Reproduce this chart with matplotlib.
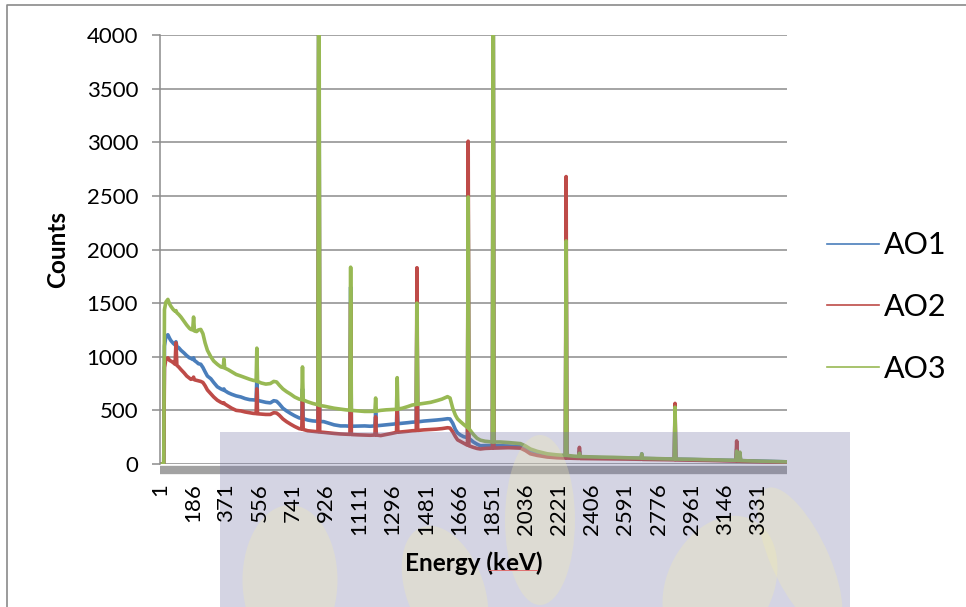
import matplotlib
matplotlib.use('Agg')
import matplotlib.pyplot as plt
from matplotlib.patches import Rectangle, Ellipse
from matplotlib.lines import Line2D

plt.rcParams['font.family'] = ['Lato', 'DejaVu Sans']

# Detector channels (keV) and counts for each sample
channel = [1, 22, 26, 34, 45, 55, 62, 75, 85, 90, 95, 105, 118, 135, 150, 165, 173, 183,
           188, 193, 205, 215, 228, 240, 252, 265, 284, 300, 320, 340, 353, 357, 361,
           380, 400, 425, 451, 475, 500, 520, 536, 540, 544, 565, 590, 615, 634, 650,
           665, 685, 705, 729, 750, 775, 790, 794, 798, 823, 850, 880, 885, 890, 912,
           940, 970, 1006, 1035, 1058, 1062, 1066, 1100, 1140, 1170, 1197, 1201, 1205,
           1229, 1260, 1290, 1317, 1321, 1325, 1350, 1379, 1405, 1427, 1431, 1435,
           1468, 1507, 1540, 1570, 1601, 1615, 1630, 1645, 1657, 1673, 1690, 1712,
           1716, 1720, 1745, 1765, 1784, 1810, 1851, 1855, 1859, 1895, 1940, 1975,
           2007, 2035, 2062, 2100, 2156, 2210, 2257, 2261, 2265, 2300, 2331, 2335,
           2339, 2400, 2460, 2523, 2600, 2678, 2682, 2686, 2750, 2820, 2863, 2867,
           2871, 2950, 3050, 3150, 3206, 3210, 3214, 3224, 3228, 3232, 3300, 3400, 3490]

ao1 = [0, 0, 1100, 1190, 1205, 1170, 1150, 1125, 1110, 1140, 1095, 1085, 1060, 1035, 1010,
       990, 985, 975, 990, 965, 950, 935, 930, 900, 860, 820, 795, 760, 720, 700, 690,
       700, 685, 665, 650, 635, 625, 610, 600, 598, 595, 800, 593, 585, 575, 570, 590,
       585, 560, 520, 495, 470, 450, 430, 425, 700, 423, 410, 402, 398, 5200, 396, 395,
       380, 365, 355, 355, 352, 1650, 352, 353, 355, 352, 355, 480, 356, 360, 365, 370,
       375, 600, 376, 380, 385, 390, 392, 1450, 393, 400, 405, 410, 415, 422, 420, 380,
       320, 290, 270, 255, 245, 2400, 240, 205, 185, 170, 172, 172, 5000, 170, 170, 168,
       165, 160, 145, 125, 105, 88, 78, 72, 2000, 70, 66, 64, 120, 63, 60, 58, 57, 54,
       52, 95, 51, 49, 46, 45, 500, 44, 42, 38, 34, 33, 140, 32, 32, 90, 31, 28, 24, 20]

ao2 = [0, 0, 900, 975, 990, 965, 960, 945, 930, 1130, 920, 905, 880, 850, 820, 800, 790,
       795, 810, 785, 780, 775, 770, 760, 730, 690, 655, 625, 595, 575, 565, 570, 560,
       540, 520, 500, 495, 485, 478, 472, 470, 700, 468, 465, 462, 462, 478, 475, 455,
       420, 395, 370, 350, 330, 325, 600, 322, 310, 305, 300, 4600, 298, 295, 290, 285,
       280, 278, 276, 1500, 275, 272, 270, 268, 270, 440, 270, 265, 275, 285, 295, 520,
       296, 300, 305, 310, 312, 1830, 313, 318, 322, 325, 330, 338, 335, 300, 255, 225,
       210, 195, 175, 3010, 170, 155, 145, 140, 145, 148, 4500, 148, 150, 152, 150, 148,
       125, 95, 80, 65, 58, 55, 2680, 55, 53, 52, 155, 51, 50, 49, 48, 46, 44, 80, 43,
       42, 40, 39, 565, 38, 36, 33, 29, 27, 215, 26, 26, 85, 25, 22, 18, 15]

ao3 = [0, 0, 1440, 1510, 1535, 1490, 1470, 1440, 1425, 1430, 1410, 1395, 1370, 1330, 1295,
       1265, 1255, 1250, 1370, 1240, 1235, 1250, 1255, 1215, 1130, 1060, 1000, 960, 930,
       905, 900, 980, 895, 880, 860, 835, 820, 805, 790, 780, 775, 1080, 770, 755, 745,
       750, 770, 765, 735, 700, 675, 650, 625, 605, 600, 905, 597, 580, 565, 552, 6000,
       545, 540, 530, 520, 512, 505, 502, 1835, 500, 495, 490, 490, 492, 615, 493, 500,
       505, 508, 510, 805, 512, 520, 535, 550, 555, 1500, 557, 565, 575, 590, 605, 628,
       615, 520, 455, 420, 395, 370, 340, 2490, 330, 275, 240, 222, 212, 205, 5500, 205,
       205, 200, 195, 190, 168, 140, 118, 95, 85, 80, 2080, 80, 74, 70, 100, 69, 66, 64,
       62, 58, 55, 95, 54, 51, 48, 47, 530, 46, 44, 40, 36, 34, 120, 33, 33, 110, 32, 28,
       24, 20]

series = [('AO1', ao1, '#4a7ebb'), ('AO2', ao2, '#be4b48'), ('AO3', ao3, '#98b954')]
tick_channels = list(range(1, 3332, 185))

fig = plt.figure(figsize=(9.66, 6.07), dpi=100)
ax = fig.add_axes([0.1656, 0.2356, 0.6491, 0.7067])

for name, counts, color in series:
    ax.plot(channel, counts, color=color, lw=2.6, label=name)

ax.set_xlim(1, 3490)
ax.set_ylim(0, 4000)
ax.set_yticks(range(0, 4001, 500))
ax.set_xticks(tick_channels)
ax.set_xticklabels([str(c) for c in tick_channels])

grid_grey = '#8c8c8c'
ax.grid(axis='y', color=grid_grey, lw=1.1)
ax.set_axisbelow(True)
for side in ['top', 'right']:
    ax.spines[side].set_visible(False)
ax.spines['left'].set_color(grid_grey)
ax.spines['left'].set_linewidth(1.1)
# thick grey floor under the category axis
ax.spines['bottom'].set_position(('outward', 4))
ax.spines['bottom'].set_color('#a2a2a2')
ax.spines['bottom'].set_linewidth(6)
ax.spines['bottom'].set_capstyle('butt')

ax.tick_params(axis='y', length=5.8, width=1.1, color=grid_grey, pad=10, labelsize=16)
ax.tick_params(axis='x', length=0, pad=10, labelsize=16, labelrotation=90)

ax.set_xlabel('Energy (keV)', fontsize=17.5, fontweight='bold')
ax.xaxis.set_label_coords(0.5, -0.231)
ax.xaxis.label.set_va('center')
ax.set_ylabel('Counts', fontsize=17.5, fontweight='bold')
ax.yaxis.set_label_coords(-0.163, 0.5)
ax.yaxis.label.set_va('center')
# keep the category labels above the watermark
ax.xaxis.set_zorder(4)

leg = fig.legend(loc='center left', bbox_to_anchor=(0.8561, 0.4942), frameon=False,
                 fontsize=22, handlelength=1.7, handletextpad=0.16, labelspacing=1.1,
                 borderpad=0, borderaxespad=0)
for handle in leg.get_lines():
    handle.set_linewidth(1.2)

# chart border (top and left edges)
fig.add_artist(Line2D([7 / 966, 7 / 966, 1], [0, 1 - 5 / 607, 1 - 5 / 607],
                      transform=fig.transFigure, color='#8a8a8a', lw=1.2))

# red spell-check squiggle under "keV"
ax.add_artist(Line2D([489 / 966, 537 / 966], [1 - 570 / 607, 1 - 570 / 607],
                     transform=fig.transFigure, color='#e07070', lw=0.7,
                     clip_on=False, zorder=5))

# faint logo watermark across the lower part
wm = Rectangle((220 / 966, 0), 630 / 966, 175 / 607, transform=fig.transFigure,
               facecolor=(0.45, 0.45, 0.64), alpha=0.3, edgecolor='none',
               clip_on=False, zorder=3)
ax.add_artist(wm)
for cx, cy, w, h, ang in [(290, 580, 95, 150, 0), (445, 590, 80, 130, 10),
                          (540, 520, 70, 170, 0), (720, 585, 110, 140, -10),
                          (800, 560, 60, 150, 15)]:
    leaf = Ellipse((cx / 966, 1 - cy / 607), w / 966, h / 607, angle=ang,
                   transform=fig.transFigure, facecolor='#f2ecb0', alpha=0.3,
                   edgecolor='none', zorder=3.1)
    ax.add_artist(leaf)
    leaf.set_clip_path(wm)

fig.savefig('out.png', dpi=100)
